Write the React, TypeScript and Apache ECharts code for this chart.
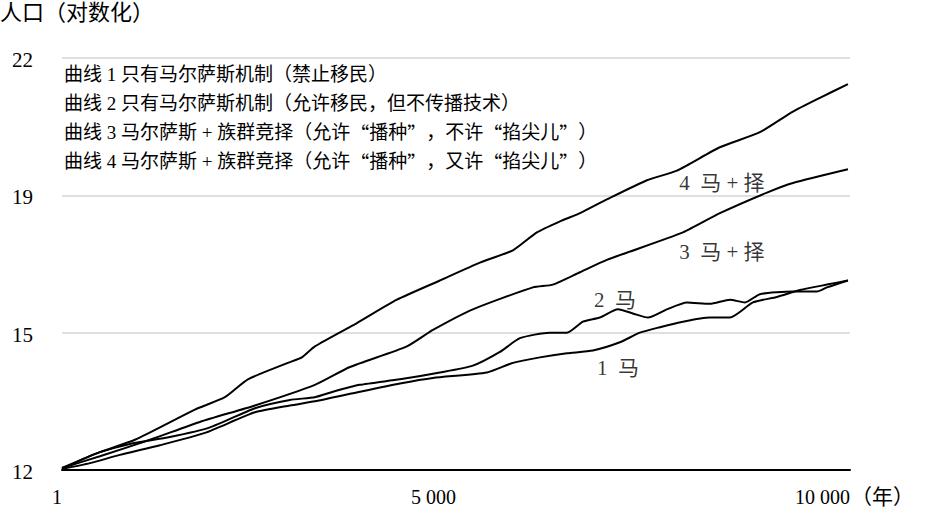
import React, { useEffect, useRef } from "react";
import * as echarts from "echarts";

// y-axis: positions 0..3 correspond to these (log-scaled) tick labels
const yTickLabels = ["12", "15", "19", "22"];
const xTickValues = [1, 5000, 10000];
const xTickLabels = ["1", "5 000", "10 000"];

const curve1Years = [1, 355, 736, 1244, 1815, 2449, 2893, 3210, 3781, 4289, 4708, 5393, 5723, 6065, 6408, 6738, 7080, 7334, 7588, 7880, 8222, 8476, 8768, 9073, 9365, 9707, 9974];
const curve1Vals = [0.007, 0.05, 0.11, 0.18, 0.27, 0.42, 0.47, 0.5, 0.57, 0.63, 0.67, 0.71, 0.78, 0.82, 0.85, 0.87, 0.93, 1.0, 1.04, 1.08, 1.11, 1.11, 1.22, 1.26, 1.31, 1.35, 1.38];

const curve2Years = [1, 228, 482, 863, 1370, 1878, 2449, 2893, 3210, 3439, 3781, 4289, 4796, 5215, 5558, 5812, 6192, 6408, 6611, 6827, 7055, 7245, 7436, 7677, 7931, 8222, 8476, 8667, 8857, 9276, 9580, 9707, 9974];
const curve2Vals = [0.007, 0.07, 0.13, 0.19, 0.24, 0.31, 0.45, 0.51, 0.53, 0.57, 0.62, 0.66, 0.71, 0.76, 0.86, 0.96, 1.0, 1.0, 1.08, 1.11, 1.17, 1.14, 1.11, 1.17, 1.22, 1.21, 1.24, 1.22, 1.28, 1.3, 1.3, 1.33, 1.38];

const curve3Years = [1, 482, 1117, 1751, 2449, 3210, 3654, 4378, 4708, 5215, 5977, 6230, 6573, 6915, 7880, 8349, 8946, 9276, 9974];
const curve3Vals = [0.015, 0.1, 0.22, 0.35, 0.47, 0.62, 0.75, 0.9, 1.02, 1.17, 1.33, 1.35, 1.44, 1.53, 1.73, 1.87, 2.02, 2.09, 2.19];

const curve4Years = [1, 482, 926, 1688, 2068, 2360, 2868, 3045, 3210, 3743, 4251, 4796, 5304, 5723, 6027, 6319, 6573, 6915, 7423, 7804, 8349, 8857, 9276, 9618, 9974];
const curve4Vals = [0.015, 0.13, 0.22, 0.44, 0.53, 0.66, 0.78, 0.82, 0.9, 1.07, 1.24, 1.38, 1.51, 1.6, 1.73, 1.81, 1.87, 1.97, 2.11, 2.18, 2.35, 2.46, 2.61, 2.71, 2.81];

const legendLines = [
  "曲线 1 只有马尔萨斯机制（禁止移民）",
  "曲线 2 只有马尔萨斯机制（允许移民，但不传播技术）",
  "曲线 3 马尔萨斯 + 族群竞择（允许“播种”，不许“掐尖儿”）",
  "曲线 4 马尔萨斯 + 族群竞择（允许“播种”，又许“掐尖儿”）",
];
const curveLabels = ["1  马", "2  马", "3  马 + 择", "4  马 + 择"];
// label anchor positions in data units [year, level]
const curveLabelAt: [number, number][] = [
  [7055, 0.74],
  [7017, 1.24],
  [8375, 1.59],
  [8375, 2.09],
];

const FONT = "'Liberation Serif', 'Noto Sans CJK SC', serif";
const CJK = "'Noto Sans CJK SC', sans-serif";

const zip = (xs: number[], ys: number[]) => xs.map((x, i) => [x, ys[i]]);

// split text so that curly quotes render full-width in the CJK font
const toRich = (t: string) =>
  t
    .split(/([“”])/)
    .filter((s) => s.length > 0)
    .map((s) => (s === "“" || s === "”" ? `{q|${s}}` : `{n|${s}}`))
    .join("");

export default function App() {
  const ref = useRef<HTMLDivElement>(null);
  useEffect(() => {
    if (!ref.current) return;
    const chart = echarts.init(ref.current, undefined, { renderer: "svg" });
    const mkLine = (name: string, data: number[][]) => ({
      name,
      type: "line",
      data,
      showSymbol: false,
      smooth: 0.2,
      lineStyle: { color: "#000", width: 2 },
      z: 3,
    });
    chart.setOption({
      animation: false,
      backgroundColor: "#fff",
      grid: { left: 62, right: 81, top: 58, bottom: 43 },
      xAxis: {
        type: "value",
        min: 1,
        max: 10000,
        axisLine: { show: true, lineStyle: { color: "#000", width: 2 } },
        axisTick: { show: false },
        splitLine: { show: false },
        axisLabel: {
          customValues: xTickValues,
          formatter: (v: number) => xTickLabels[xTickValues.indexOf(v)] ?? "",
          align: "right",
          margin: 17,
          color: "#000",
          fontSize: 20,
          fontFamily: FONT,
        },
      },
      yAxis: {
        type: "value",
        min: 0,
        max: 3,
        interval: 1,
        axisLine: { show: false },
        axisTick: { show: false },
        splitLine: { show: true, lineStyle: { color: "#d4d4d4", width: 1.5 } },
        axisLabel: {
          formatter: (v: number) => yTickLabels[Math.round(v)] ?? "",
          margin: 29,
          color: "#000",
          fontSize: 21,
          fontFamily: FONT,
          verticalAlign: "top",
          lineHeight: 20,
          padding: [-8, 0, 0, 0],
        },
      },
      series: [
        mkLine("curve1", zip(curve1Years, curve1Vals)),
        mkLine("curve2", zip(curve2Years, curve2Vals)),
        mkLine("curve3", zip(curve3Years, curve3Vals)),
        mkLine("curve4", zip(curve4Years, curve4Vals)),
        {
          type: "scatter",
          data: curveLabelAt.map((p, i) => ({ value: p, name: curveLabels[i] })),
          symbolSize: 0,
          silent: true,
          label: {
            show: true,
            position: "inside",
            formatter: (p: any) => p.name,
            color: "#000",
            fontSize: 21,
            fontFamily: FONT,
          },
        },
      ],
      graphic: [
        {
          type: "text",
          left: 0,
          top: 1,
          style: { text: "人口（对数化）", fill: "#000", fontSize: 22, fontFamily: FONT },
        },
        ...legendLines.map((t, i) => ({
          type: "text",
          left: 64,
          top: 65 + i * 29,
          style: {
            text: toRich(t),
            fill: "#000",
            fontSize: 19,
            fontFamily: FONT,
            rich: {
              n: { fontSize: 19, fontFamily: FONT, fill: "#000" },
              q: { fontSize: 19, fontFamily: CJK, fill: "#000" },
            },
          },
        })),
        {
          type: "text",
          left: 851,
          top: 486,
          style: { text: "（年）", fill: "#000", fontSize: 21, fontFamily: FONT },
        },
      ],
    });
    return () => chart.dispose();
  }, []);
  return (
    <div
      ref={ref}
      style={{ position: "fixed", left: 0, top: 0, width: 931, height: 513, background: "#fff" }}
    />
  );
}
